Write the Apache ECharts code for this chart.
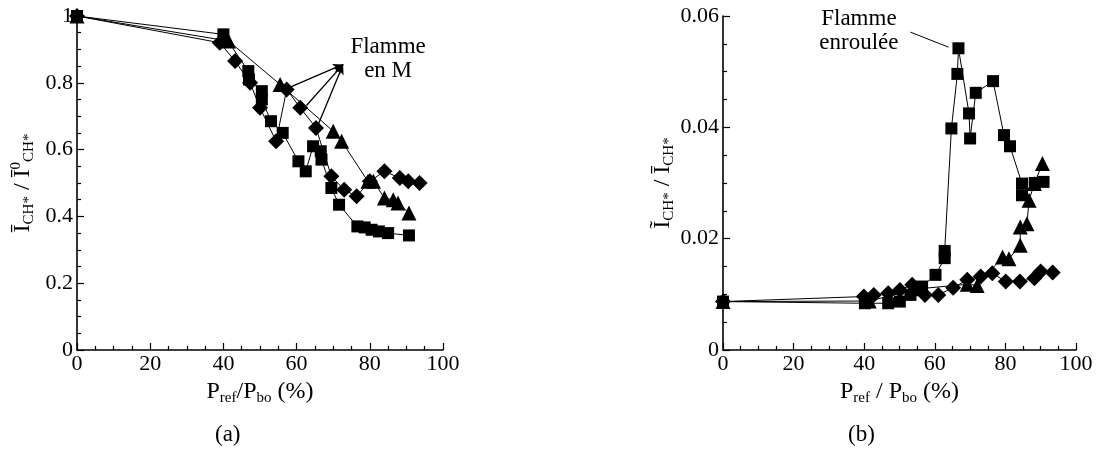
<!DOCTYPE html>
<html><head><meta charset="utf-8">
<script src="https://cdn.jsdelivr.net/npm/echarts@6/dist/echarts.min.js"></script>
<style>html,body{margin:0;padding:0;background:#fff}#c{width:1100px;height:455px}</style>
</head><body><div id="c"></div>
<script>
// ---- data (a) mean intensity ----
const aSqX = [0, 40, 46.8, 47, 50.5, 50.5, 53, 56.2, 60.5, 62.5, 64.5, 66.6, 66.8, 69.5, 71.6, 76.6, 78.6, 80.5, 82.5, 85, 90.7];
const aSqY = [1.0, 0.945, 0.835, 0.81, 0.775, 0.75, 0.685, 0.65, 0.565, 0.535, 0.61, 0.595, 0.57, 0.485, 0.435, 0.37, 0.367, 0.36, 0.355, 0.35, 0.343];
const aDiX = [0, 39, 43.2, 47.3, 50, 54.4, 57.3, 61, 65.3, 69.5, 73, 76.4, 80, 84, 88.2, 90.5, 93.6];
const aDiY = [1.0, 0.92, 0.865, 0.80, 0.725, 0.625, 0.78, 0.725, 0.665, 0.52, 0.48, 0.46, 0.505, 0.535, 0.515, 0.505, 0.50];
const aTrX = [0, 41.4, 55.5, 70, 72.3, 79.5, 81, 84, 86.4, 87.7, 90.7];
const aTrY = [1.0, 0.925, 0.795, 0.655, 0.625, 0.505, 0.505, 0.455, 0.45, 0.44, 0.41];
// ---- data (b) fluctuation ----
const bSqX = [0, 40.2, 46.8, 50.1, 53.1, 56.4, 60.2, 62.8, 62.8, 64.7, 66.4, 66.7, 69.7, 70, 71.6, 76.5, 79.6, 81.3, 84.7, 84.7, 88.3, 90.8];
const bSqY = [0.0087, 0.0084, 0.0084, 0.0087, 0.0099, 0.0114, 0.0135, 0.0165, 0.0178, 0.0398, 0.0496, 0.0542, 0.0425, 0.038, 0.0462, 0.0483, 0.0386, 0.0366, 0.0299, 0.0278, 0.0300, 0.0302];
const bDiX = [0, 39.9, 42.7, 46.8, 50.1, 53.6, 57.2, 61, 65.2, 69.2, 73, 76.3, 80.1, 84.1, 88.2, 90, 93.4];
const bDiY = [0.0087, 0.0096, 0.0099, 0.0102, 0.0108, 0.0117, 0.0099, 0.0099, 0.0112, 0.0126, 0.0132, 0.0138, 0.0123, 0.0123, 0.0129, 0.0141, 0.0139];
const bTrX = [0, 41.4, 55.5, 69.2, 72, 79.2, 81, 84.2, 84.2, 86.1, 86.7, 88.2, 90.5];
const bTrY = [0.0087, 0.0088, 0.0110, 0.0118, 0.0116, 0.0167, 0.0164, 0.0188, 0.0221, 0.0227, 0.0269, 0.0299, 0.0335];
const xTickLabels = ['0', '20', '40', '60', '80', '100'];

const FONT = 'Liberation Serif';
const zip = (xs, ys) => xs.map((x, i) => [x, ys[i]]);

const chart = echarts.init(document.getElementById('c'), null, {renderer: 'canvas'});

const richName = {
  b: {fontFamily: FONT, fontSize: 24, color: '#000', verticalAlign: 'middle', lineHeight: 28},
  n: {fontFamily: FONT, fontSize: 24, color: '#000', verticalAlign: 'middle', lineHeight: 28},
  sub: {fontFamily: FONT, fontSize: 15, color: '#000', verticalAlign: 'bottom', lineHeight: 13},
  sup: {fontFamily: FONT, fontSize: 15, color: '#000', verticalAlign: 'top', lineHeight: 13}
};

function xAxis(gi) {
  return {
    type: 'value', gridIndex: gi, min: 0, max: 100, interval: 20,
    name: gi === 0 ? '{n|P}{sub|ref}{n|/P}{sub|bo}{n| (%)}' : '{n|P}{sub|ref}{n| / P}{sub|bo}{n| (%)}',
    nameLocation: 'middle', nameGap: 23,
    nameTextStyle: {rich: richName},
    axisLine: {show: true, onZero: false, lineStyle: {color: '#000', width: 1.6}},
    axisTick: {show: true, inside: true, length: 7, lineStyle: {color: '#000', width: 1.2}},
    minorTick: {show: true, splitNumber: 4, length: 4, lineStyle: {color: '#000', width: 1.2}},
    splitLine: {show: false},
    axisLabel: {fontFamily: FONT, fontSize: 22, color: '#000', margin: 3,
      formatter: v => xTickLabels[Math.round(v / 20)]}
  };
}
function yAxis(gi) {
  const a = gi === 0;
  return {
    type: 'value', gridIndex: gi, min: 0, max: a ? 1 : 0.06, interval: a ? 0.2 : 0.02,
    name: a ? '{b|Ī}{sub|CH*}{n| / }{b|Ī}{sup|0}{sub|CH*}' : '{b|Ĩ}{sub|CH*}{n| / }{b|Ī}{sub|CH*}',
    nameLocation: 'middle', nameGap: a ? 40 : 42, nameRotate: 90,
    nameTextStyle: {rich: richName},
    axisLine: {show: true, onZero: false, lineStyle: {color: '#000', width: 1.6}},
    axisTick: {show: true, inside: true, length: 7, lineStyle: {color: '#000', width: 1.2}},
    minorTick: {show: true, splitNumber: 4, length: 4, lineStyle: {color: '#000', width: 1.2}},
    splitLine: {show: false},
    axisLabel: {fontFamily: FONT, fontSize: 22, color: '#000', margin: 4,
      formatter: v => v === 0 ? '0' : (a ? (v >= 1 ? '1' : v.toFixed(1)) : v.toFixed(2))}
  };
}
function ser(gi, data, sym, size, extra) {
  return Object.assign({
    type: 'line', xAxisIndex: gi, yAxisIndex: gi, data: data,
    symbol: sym, symbolSize: size, showSymbol: true,
    lineStyle: {color: '#000', width: 1},
    itemStyle: {color: '#000', borderWidth: 0},
    animation: false, z: 3
  }, extra || {});
}
const lblStyle = {fontFamily: FONT, fontSize: 23, color: '#000', lineHeight: 24};

chart.setOption({
  animation: false,
  grid: [
    {left: 77, top: 16, width: 366, height: 334},
    {left: 723, top: 16, width: 353, height: 334}
  ],
  xAxis: [xAxis(0), xAxis(1)],
  yAxis: [yAxis(0), yAxis(1)],
  series: [
    ser(0, zip(aTrX, aTrY), 'triangle', 15),
    ser(0, zip(aSqX, aSqY), 'rect', 12),
    ser(0, zip(aDiX, aDiY), 'diamond', 16, {
      markLine: {
        silent: true, symbol: ['arrow', 'none'], symbolSize: [7, 10],
        lineStyle: {color: '#000', width: 1.3, type: 'solid'}, label: {show: false},
        data: [
          [{coord: [72.7, 0.855]}, {coord: [58.4, 0.788]}],
          [{coord: [72.7, 0.855]}, {coord: [62.7, 0.732]}],
          [{coord: [72.7, 0.855]}, {coord: [65.6, 0.667]}]
        ]
      },
      markPoint: {
        silent: true, symbol: 'rect', symbolSize: 0,
        label: Object.assign({show: true, position: 'inside', align: 'center'}, lblStyle),
        data: [{coord: [85, 0.87], value: 0, label: {formatter: 'Flamme\nen M'}}]
      }
    }),
    ser(1, zip(bTrX, bTrY), 'triangle', 15),
    ser(1, zip(bDiX, bDiY), 'diamond', 16),
    ser(1, zip(bSqX, bSqY), 'rect', 12, {
      markLine: {
        silent: true, symbol: ['none', 'none'],
        lineStyle: {color: '#000', width: 1, type: 'solid'}, label: {show: false},
        data: [[{coord: [53.1, 0.0571]}, {coord: [63.9, 0.0544]}]]
      },
      markPoint: {
        silent: true, symbol: 'rect', symbolSize: 0,
        label: Object.assign({show: true, position: 'inside', align: 'center'}, lblStyle),
        data: [{coord: [38.5, 0.0574], value: 0, label: {formatter: 'Flamme\nenroulée'}}]
      }
    })
  ],
  graphic: [
    {type: 'text', left: 215, top: 423, style: {text: '(a)', font: '23px "Liberation Serif"', fill: '#000'}},
    {type: 'text', left: 848, top: 423, style: {text: '(b)', font: '23px "Liberation Serif"', fill: '#000'}}
  ]
});
</script>
</body></html>
